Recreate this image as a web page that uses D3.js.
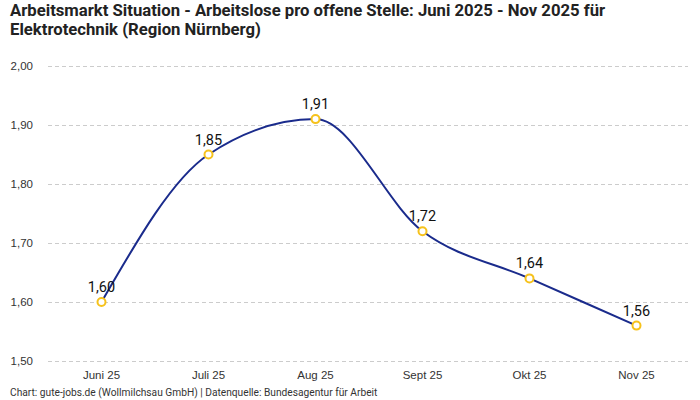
<!DOCTYPE html>
<html>
<head>
<meta charset="utf-8">
<script src="https://cdn.jsdelivr.net/npm/d3@7"></script>
<style>
  body { margin: 0; background: #fff; }
  svg { font-family: Roboto, "Noto Sans", sans-serif; }
</style>
</head>
<body>
<div id="vis"></div>
<script>
var months = ["Juni 25", "Juli 25", "Aug 25", "Sept 25", "Okt 25", "Nov 25"];
var ratio = [1.60, 1.85, 1.91, 1.72, 1.64, 1.56];
var yTicks = [1.5, 1.6, 1.7, 1.8, 1.9, 2.0];

var W = 700, H = 400;
var fmt = function(v) { return v.toFixed(2).replace('.', ','); };

var svg = d3.select('#vis').append('svg').attr('width', W).attr('height', H);

// title
svg.append('text').attr('x', 10).attr('y', 16)
  .attr('font-size', 16.7).attr('font-weight', 'bold').attr('fill', '#222')
  .text('Arbeitsmarkt Situation - Arbeitslose pro offene Stelle: Juni 2025 - Nov 2025 für');
svg.append('text').attr('x', 10).attr('y', 35)
  .attr('font-size', 16.7).attr('font-weight', 'bold').attr('fill', '#222')
  .text('Elektrotechnik (Region Nürnberg)');

var x = d3.scaleBand().domain(months).range([48, 690]);
var y = d3.scaleLinear().domain([1.5, 2.0]).range([361, 66]);

// grid + y labels
var yAxis = svg.append('g').attr('transform', 'translate(48,0)')
  .call(d3.axisLeft(y).tickValues(yTicks).tickFormat(fmt).tickSize(-640).tickPadding(15));
yAxis.select('.domain').remove();
yAxis.selectAll('line').attr('stroke', '#ccc').attr('stroke-dasharray', '4,3');
yAxis.selectAll('text').attr('font-size', 11.5).attr('fill', '#333').attr('font-family', 'inherit');

// x labels
var xAxis = svg.append('g').attr('transform', 'translate(0,361)')
  .call(d3.axisBottom(x).tickSize(0).tickPadding(10));
xAxis.select('.domain').remove();
xAxis.selectAll('text').attr('font-size', 11.5).attr('fill', '#333').attr('font-family', 'inherit');

var cx = function(d, i) { return x(months[i]) + x.bandwidth() / 2; };

var line = d3.line().x(cx).y(function(d) { return y(d); }).curve(d3.curveMonotoneX);

svg.append('path').datum(ratio)
  .attr('d', line).attr('fill', 'none')
  .attr('stroke', '#1a2b8c').attr('stroke-width', 2);

svg.selectAll('circle.pt').data(ratio).enter().append('circle')
  .attr('class', 'pt')
  .attr('cx', cx)
  .attr('cy', function(d) { return y(d); })
  .attr('r', 4)
  .attr('fill', '#fff').attr('stroke', '#f6c21c').attr('stroke-width', 2);

svg.selectAll('text.val').data(ratio).enter().append('text')
  .attr('class', 'val')
  .attr('x', cx)
  .attr('y', function(d) { return y(d) - 10; })
  .attr('text-anchor', 'middle')
  .attr('font-size', 14.5).attr('fill', '#111')
  .text(fmt);

// footer
svg.append('text').attr('x', 10).attr('y', 396)
  .attr('font-size', 10.2).attr('fill', '#333')
  .text('Chart: gute-jobs.de (Wollmilchsau GmbH) | Datenquelle: Bundesagentur für Arbeit');
</script>
</body>
</html>
